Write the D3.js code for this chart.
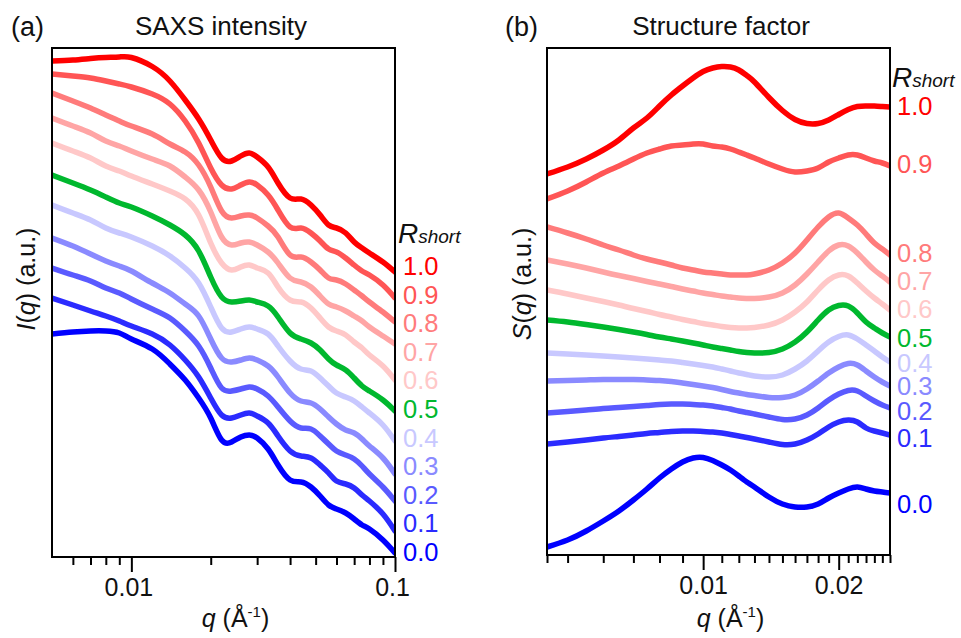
<!DOCTYPE html>
<html>
<head>
<meta charset="utf-8">
<script src="https://cdn.jsdelivr.net/npm/d3@7"></script>
<style>
  body { margin: 0; background: #fff; }
  text { font-family: "Liberation Sans", Arial, Helvetica, sans-serif; }
</style>
</head>
<body>
<script>
// ---- data (arbitrary offset units) ----
const rValues = ["1.0", "0.9", "0.8", "0.7", "0.6", "0.5", "0.4", "0.3", "0.2", "0.1", "0.0"];
const rColors = ["#ff0000", "#ff5555", "#ff7b7b", "#ffa5a5", "#ffc8c8", "#00b82e",
                 "#c8c8ff", "#8a8aff", "#5a5aff", "#2b2bff", "#0000ff"];

// (a) SAXS intensity, q grid
const qSaxs = [0.005, 0.006, 0.007, 0.008, 0.009, 0.01, 0.012, 0.014, 0.016, 0.018, 0.02, 0.022,
               0.024, 0.026, 0.028, 0.03, 0.033, 0.036, 0.04, 0.044, 0.048, 0.052, 0.056, 0.06,
               0.065, 0.07, 0.075, 0.08, 0.09, 0.1];
const saxs10 = [49.6, 49.7, 49.85, 49.95, 50.0, 49.95, 49.05, 47.6, 45.7, 43.8, 41.7, 39.9, 39.6, 40.1, 40.4, 40.0, 39.0, 37.4, 35.9, 35.8, 35.2, 34.2, 33.2, 32.9, 32.4, 31.5, 30.9, 30.4, 29.5, 28.5];
const saxs09 = [48.3, 48.1, 47.9, 47.6, 47.3, 47.0, 46.3, 45.3, 43.6, 41.4, 38.9, 37.2, 36.8, 37.2, 37.5, 37.2, 36.2, 34.7, 33.0, 32.9, 32.4, 31.6, 30.8, 30.5, 29.9, 29.2, 28.6, 28.2, 27.2, 25.9];
const saxs08 = [46.4, 45.6, 44.9, 44.2, 43.6, 43.1, 42.3, 41.3, 40.5, 39.2, 37.0, 34.6, 33.9, 34.1, 34.2, 33.9, 33.1, 32.0, 30.2, 30.0, 29.5, 28.7, 27.9, 27.7, 27.3, 26.7, 26.1, 25.5, 24.5, 23.5];
const saxs07 = [43.9, 43.1, 42.4, 41.6, 41.1, 40.6, 39.8, 39.1, 38.0, 36.7, 34.5, 32.0, 31.2, 31.4, 31.5, 31.2, 30.5, 29.4, 27.9, 27.5, 27.0, 26.1, 25.3, 25.0, 24.6, 24.1, 23.6, 23.0, 22.1, 21.3];
const saxs06 = [41.4, 40.6, 39.9, 39.1, 38.6, 38.1, 37.3, 36.6, 35.8, 34.2, 31.4, 29.4, 28.7, 29.0, 29.2, 28.9, 28.4, 27.0, 25.7, 25.5, 24.9, 23.9, 23.0, 22.6, 22.2, 21.5, 20.9, 20.2, 19.1, 17.7];
const saxs05 = [38.2, 37.4, 36.7, 36.0, 35.4, 35.0, 34.1, 33.2, 32.2, 30.6, 28.0, 26.0, 25.5, 25.6, 25.7, 25.5, 25.1, 24.0, 22.4, 21.8, 21.4, 20.7, 19.8, 19.2, 18.7, 17.9, 17.1, 16.6, 15.7, 14.6];
const saxs04 = [35.2, 34.4, 33.7, 32.9, 32.4, 32.0, 31.1, 30.1, 28.9, 27.4, 25.0, 22.9, 22.5, 22.8, 23.0, 22.8, 22.3, 21.1, 19.6, 18.8, 18.6, 17.9, 17.1, 16.4, 16.0, 15.6, 15.0, 14.4, 13.2, 11.6];
const saxs03 = [31.9, 31.1, 30.3, 29.6, 29.1, 28.6, 27.4, 26.4, 25.3, 24.1, 21.8, 19.9, 19.5, 19.7, 19.9, 19.7, 19.1, 18.0, 16.4, 15.6, 15.4, 14.8, 14.0, 13.3, 12.7, 12.4, 11.8, 11.1, 9.9, 8.3];
const saxs02 = [28.9, 28.2, 27.6, 26.9, 26.4, 25.8, 24.8, 23.9, 22.6, 21.1, 18.9, 16.9, 16.6, 16.8, 17.0, 16.8, 16.1, 15.0, 13.6, 12.9, 12.8, 12.1, 11.3, 10.6, 10.2, 9.8, 9.1, 8.3, 7.0, 5.6];
const saxs01 = [25.9, 25.2, 24.6, 24.1, 23.6, 23.1, 22.3, 21.2, 19.7, 18.0, 15.9, 14.2, 13.9, 14.2, 14.4, 14.1, 13.4, 12.1, 10.6, 10.1, 9.9, 9.2, 8.4, 7.6, 7.3, 6.9, 6.2, 5.6, 4.3, 2.6];
const saxs00 = [22.3, 22.5, 22.6, 22.6, 22.4, 21.8, 20.8, 19.3, 17.7, 15.9, 13.9, 11.7, 11.5, 12.0, 12.2, 11.9, 10.8, 9.2, 7.7, 7.5, 7.0, 6.1, 5.2, 4.8, 4.4, 3.8, 3.2, 2.8, 1.7, 0.4];
const saxsSeries = [saxs10, saxs09, saxs08, saxs07, saxs06, saxs05, saxs04, saxs03, saxs02, saxs01, saxs00];

// (b) structure factor, q grid
const qSf = [0.0045, 0.005, 0.0055, 0.006, 0.0065, 0.007, 0.0075, 0.008, 0.0085, 0.009, 0.0095, 0.01,
             0.0105, 0.011, 0.0115, 0.012, 0.0125, 0.013, 0.014, 0.015, 0.016, 0.017, 0.018, 0.019,
             0.02, 0.021, 0.022, 0.023, 0.024, 0.025, 0.026];
const sf10 = [38.1, 38.8, 39.6, 40.5, 41.5, 42.7, 43.7, 44.9, 46.0, 46.9, 47.7, 48.35, 48.7, 48.85, 48.8, 48.5, 47.95, 47.3, 45.75, 44.45, 43.55, 43.15, 43.15, 43.5, 44.05, 44.55, 44.85, 44.9, 44.9, 44.85, 44.8];
const sf09 = [35.6, 36.4, 37.3, 38.2, 38.9, 39.6, 40.2, 40.6, 40.9, 41.0, 41.1, 41.1, 40.9, 40.8, 40.6, 40.3, 40.0, 39.7, 39.1, 38.6, 38.3, 38.4, 38.7, 39.3, 39.7, 40.0, 40.0, 39.7, 39.4, 39.2, 38.9];
const sf08 = [32.8, 32.2, 31.6, 31.0, 30.5, 30.0, 29.6, 29.3, 29.0, 28.7, 28.5, 28.3, 28.2, 28.1, 28.0, 28.0, 28.0, 28.1, 28.5, 29.2, 30.2, 31.5, 32.8, 33.8, 34.2, 33.7, 33.0, 32.1, 31.2, 30.6, 30.0];
const sf07 = [29.5, 29.1, 28.7, 28.3, 27.95, 27.65, 27.35, 27.1, 26.85, 26.6, 26.4, 26.2, 26.05, 25.9, 25.8, 25.7, 25.65, 25.65, 25.8, 26.2, 27.0, 28.1, 29.3, 30.4, 31.0, 30.9, 30.2, 29.3, 28.5, 27.9, 27.3];
const sf06 = [26.5, 26.1, 25.7, 25.35, 25.0, 24.65, 24.35, 24.05, 23.8, 23.55, 23.35, 23.15, 23.0, 22.85, 22.75, 22.7, 22.7, 22.75, 23.0, 23.5, 24.3, 25.3, 26.5, 27.5, 28.0, 27.9, 27.2, 26.4, 25.7, 25.1, 24.5];
const sf05 = [23.5, 23.3, 23.05, 22.8, 22.55, 22.3, 22.05, 21.8, 21.6, 21.4, 21.2, 21.0, 20.8, 20.65, 20.5, 20.35, 20.25, 20.2, 20.25, 20.6, 21.3, 22.3, 23.5, 24.5, 24.95, 24.9, 24.2, 23.3, 22.7, 22.2, 21.8];
const sf04 = [20.2, 20.1, 20.0, 19.9, 19.8, 19.7, 19.6, 19.5, 19.4, 19.25, 19.1, 18.95, 18.8, 18.6, 18.4, 18.2, 18.05, 17.9, 17.8, 18.0, 18.6, 19.4, 20.4, 21.3, 21.85, 22.0, 21.6, 21.0, 20.4, 19.8, 19.3];
const sf03 = [17.4, 17.45, 17.5, 17.55, 17.55, 17.55, 17.5, 17.45, 17.35, 17.2, 17.05, 16.9, 16.75, 16.55, 16.35, 16.2, 16.05, 15.95, 15.75, 15.75, 16.0, 16.6, 17.4, 18.2, 18.8, 19.15, 19.0, 18.4, 17.8, 17.3, 16.9];
const sf02 = [14.2, 14.35, 14.5, 14.65, 14.75, 14.85, 14.95, 15.05, 15.1, 15.1, 15.05, 15.0, 14.9, 14.75, 14.6, 14.4, 14.25, 14.1, 13.8, 13.55, 13.6, 14.0, 14.7, 15.5, 16.1, 16.45, 16.4, 15.9, 15.4, 15.0, 14.7];
const sf01 = [11.1, 11.3, 11.5, 11.7, 11.85, 12.0, 12.15, 12.25, 12.35, 12.4, 12.4, 12.35, 12.3, 12.2, 12.05, 11.9, 11.75, 11.6, 11.3, 11.05, 11.1, 11.5, 12.1, 12.8, 13.3, 13.5, 13.3, 12.7, 12.4, 12.2, 12.0];
const sf00 = [0.8, 1.5, 2.4, 3.4, 4.4, 5.5, 6.6, 7.7, 8.6, 9.3, 9.7, 9.75, 9.45, 9.0, 8.5, 7.9, 7.3, 6.8, 5.8, 5.1, 4.8, 4.8, 5.1, 5.7, 6.2, 6.6, 6.8, 6.6, 6.4, 6.3, 6.2];
const sfSeries = [sf10, sf09, sf08, sf07, sf06, sf05, sf04, sf03, sf02, sf01, sf00];
// legend levels beside panel (b), same units as the curves
const sfLabelLevels = [44.0, 38.2, 29.3, 26.5, 23.7, 20.8, 18.3, 16.0, 13.5, 10.8, 4.2];

// ticks
const saxsMajor = [0.01, 0.1];
const saxsMinor = [0.006, 0.007, 0.008, 0.009, 0.02, 0.03, 0.04, 0.05, 0.06, 0.07, 0.08, 0.09];
const sfMajor = [0.01, 0.02];
const sfMinor = [0.0045, 0.005, 0.006, 0.007, 0.008, 0.009, 0.011, 0.012, 0.013, 0.014, 0.015, 0.016,
                 0.017, 0.018, 0.019, 0.021, 0.022, 0.023, 0.024, 0.025, 0.026];

// ---- drawing ----
const svg = d3.select("body").append("svg").attr("width", 961).attr("height", 638);

function drawPanel(p) {
  const x = d3.scaleLog().domain(p.xDomain).range([p.left, p.right]);
  const y = d3.scaleLinear().domain(p.yDomain).range([p.bottom, p.top]);
  const g = svg.append("g");

  const clipId = "clip" + p.tag;
  svg.append("clipPath").attr("id", clipId).append("rect")
    .attr("x", p.left).attr("y", p.top).attr("width", p.right - p.left).attr("height", p.bottom - p.top);

  const line = d3.line()
    .x((d, i) => x(p.q[i]))
    .y(d => y(d))
    .curve(d3.curveNatural);

  g.append("g").attr("clip-path", `url(#${clipId})`)
    .selectAll("path").data(p.series.slice().reverse()).join("path")
    .attr("d", line)
    .attr("fill", "none")
    .attr("stroke", (d, i) => rColors[rColors.length - 1 - i])
    .attr("stroke-width", 5.5)
    .attr("stroke-linejoin", "round")
    .attr("stroke-linecap", "round");

  // frame
  g.append("rect")
    .attr("x", p.left).attr("y", p.top)
    .attr("width", p.right - p.left).attr("height", p.bottom - p.top)
    .attr("fill", "none").attr("stroke", "#000").attr("stroke-width", 2);

  // ticks
  const minorAx = g.append("g").attr("transform", `translate(0,${p.bottom})`)
    .call(d3.axisBottom(x).tickValues(p.minor).tickSize(8).tickFormat(""));
  const majorAx = g.append("g").attr("transform", `translate(0,${p.bottom})`)
    .call(d3.axisBottom(x).tickValues(p.major).tickSize(15).tickFormat(d => String(d)));
  [minorAx, majorAx].forEach(a => {
    a.select(".domain").remove();
    a.selectAll("line").attr("stroke", "#000").attr("stroke-width", 2);
  });
  majorAx.selectAll("text")
    .attr("y", 39).attr("dy", 0).attr("dx", p.tickDx)
    .attr("font-size", 25).attr("fill", "#111")
    .style("font-family", '"Liberation Sans", Arial, sans-serif');

  // x label
  const xl = svg.append("text")
    .attr("x", (p.left + p.right) / 2 + 12).attr("y", 627)
    .attr("text-anchor", "middle").attr("font-size", 25).attr("fill", "#111");
  xl.append("tspan").attr("font-style", "italic").text("q");
  xl.append("tspan").text(" (Å");
  xl.append("tspan").attr("font-size", 15).attr("dy", -10).text("-1");
  xl.append("tspan").attr("dy", 10).text(")");

  // y label
  const yl = svg.append("text")
    .attr("transform", `translate(${p.yLabelX},${p.yLabelY}) rotate(-90)`)
    .attr("text-anchor", "middle").attr("font-size", 25).attr("fill", "#111");
  yl.append("tspan").attr("font-style", "italic").text(p.yLetter);
  yl.append("tspan").text("(");
  yl.append("tspan").attr("font-style", "italic").text("q");
  yl.append("tspan").text(") (a.u.)");

  // title and panel letter
  svg.append("text").attr("x", p.titleX).attr("y", 35).attr("text-anchor", "middle")
    .attr("font-size", 26).attr("fill", "#111").text(p.title);
  svg.append("text").attr("x", p.letterX).attr("y", 36)
    .attr("font-size", 27).attr("fill", "#111").text(p.letter);

  // legend
  const rs = svg.append("text").attr("x", p.legX - 5).attr("y", p.rshortY)
    .attr("font-style", "italic").attr("fill", "#111");
  rs.append("tspan").attr("font-size", 28).text("R");
  rs.append("tspan").attr("font-size", 19).text("short");

  svg.append("g").selectAll("text").data(rValues).join("text")
    .attr("x", p.legX)
    .attr("y", (d, i) => p.labelY(i, y))
    .attr("font-size", 25.5)
    .attr("fill", (d, i) => rColors[i])
    .text(d => d);
}

drawPanel({
  tag: "a", q: qSaxs, series: saxsSeries,
  xDomain: [0.005, 0.1], yDomain: [0, 50.9],
  left: 52, right: 395, top: 48, bottom: 557,
  major: saxsMajor, minor: saxsMinor, tickDx: -3,
  yLetter: "I", yLabelX: 35, yLabelY: 279,
  title: "SAXS intensity", titleX: 221, letter: "(a)", letterX: 11,
  legX: 403, rshortY: 243,
  labelY: (i) => 275 + i * 28.6
});

drawPanel({
  tag: "b", q: qSf, series: sfSeries,
  xDomain: [0.0045, 0.026], yDomain: [0, 50.7],
  left: 547, right: 890, top: 48, bottom: 555,
  major: sfMajor, minor: sfMinor, tickDx: 0,
  yLetter: "S", yLabelX: 531, yLabelY: 284,
  title: "Structure factor", titleX: 721, letter: "(b)", letterX: 505,
  legX: 897, rshortY: 87,
  labelY: (i, y) => y(sfLabelLevels[i])
});
</script>
</body>
</html>
